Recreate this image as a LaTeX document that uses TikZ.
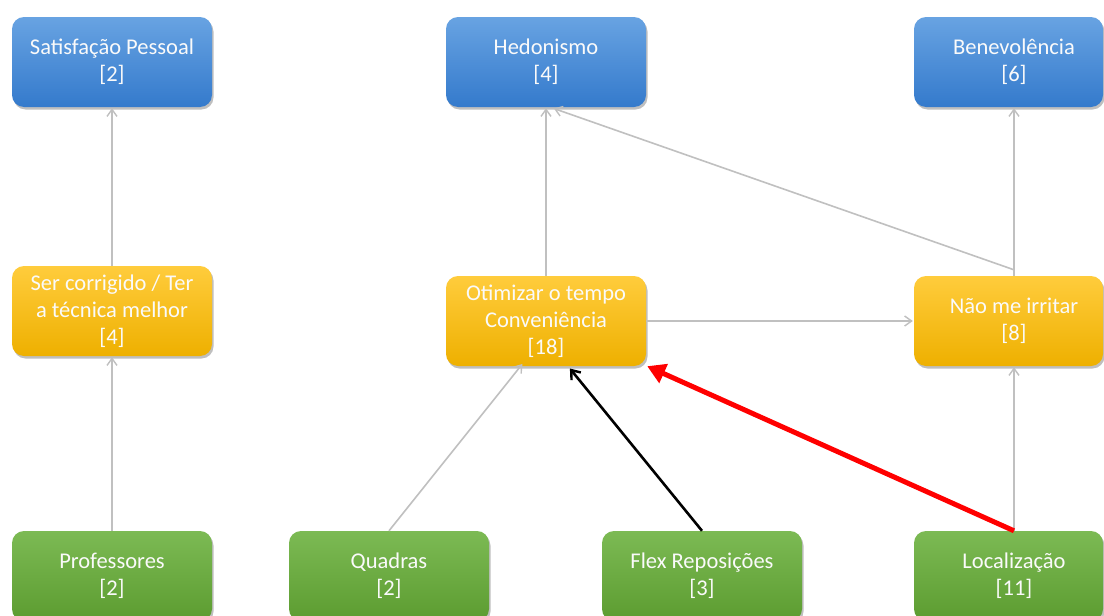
\documentclass[tikz,border=0pt]{standalone}
\usepackage{fontspec}
\setmainfont{Carlito}
\usetikzlibrary{arrows.meta,shadows}
\definecolor{bluetop}{RGB}{104,163,226}
\definecolor{bluebot}{RGB}{52,122,204}
\definecolor{yeltop}{RGB}{255,204,60}
\definecolor{yelbot}{RGB}{238,176,0}
\definecolor{grntop}{RGB}{124,186,84}
\definecolor{grnbot}{RGB}{92,156,48}
\definecolor{conngray}{RGB}{192,192,192}
\definecolor{txtwhite}{RGB}{250,250,250}
\tikzset{
  box/.style={rounded corners=12pt, minimum width=200pt, minimum height=90pt,
    inner sep=0pt, align=center, text=txtwhite,
    font=\fontsize{22.5}{27}\selectfont,
    drop shadow={shadow xshift=1.5pt, shadow yshift=-2.5pt, opacity=0.25, fill=black}},
  boxnarrow/.style={box, minimum width=189pt},
  bluebox/.style={top color=bluetop, bottom color=bluebot},
  yelbox/.style={top color=yeltop, bottom color=yelbot},
  grnbox/.style={top color=grntop, bottom color=grnbot},
  boxtext/.style={align=center, text=txtwhite, inner sep=0pt,
    font=\fontsize{22.5}{27}\selectfont},
  grayconn/.style={draw=conngray, line width=1.6pt,
    -{Straight Barb[length=7pt,width=10pt,line width=1.4pt]}, shorten >=1pt},
  blackconn/.style={draw=black, line width=2.6pt,
    -{Straight Barb[length=8pt,width=12pt,line width=2.4pt]}, shorten >=3pt},
  redconn/.style={draw=red, line width=5pt,
    -{Triangle[length=18pt,width=20pt]}},
}
\begin{document}
\begin{tikzpicture}[x=1pt,y=-1pt]
\useasboundingbox[fill=white] (0,0) rectangle (1104,616);
% top row
\node[box,bluebox] (sat) at (112,62) {Satisfação Pessoal\\{}[2]};
\node[box,bluebox] (hed) at (546,62) {Hedonismo\\{}[4]};
\node[boxnarrow,bluebox] (ben) at (1008.5,62) {};
\node[boxtext] (bent) at (1014,62) {Benevolência\\{}[6]};
% middle row
\node[box,yelbox] (ser) at (112,311) {Ser corrigido / Ter\\a técnica melhor\\{}[4]};
\node[box,yelbox] (oti) at (546,321) {Otimizar o tempo\\Conveniência\\{}[18]};
\node[boxnarrow,yelbox] (nao) at (1008.5,321) {};
\node[boxtext] (naot) at (1014,321) {Não me irritar\\{}[8]};
% bottom row
\node[box,grnbox] (pro) at (112,576) {Professores\\{}[2]};
\node[box,grnbox] (qua) at (389,576) {Quadras\\{}[2]};
\node[box,grnbox] (fle) at (702,576) {Flex Reposições\\{}[3]};
\node[boxnarrow,grnbox] (loc) at (1008.5,576) {};
\node[boxtext] (loct) at (1014,576) {Localização\\{}[11]};
% connectors
\draw[grayconn] (pro.north) -- (ser.south);
\draw[grayconn] (ser.north) -- (sat.south);
\draw[grayconn] (oti.north) -- (hed.south);
\draw[grayconn] (oti.east) -- (nao.west);
\draw[grayconn] ([xshift=5.5pt,yshift=6pt]nao.north) -- ([xshift=7pt,yshift=-1pt]hed.south);
\draw[grayconn] ([xshift=5.5pt]nao.north) -- ([xshift=5.5pt]ben.south);
\draw[grayconn] ([xshift=5.5pt]loc.north) -- ([xshift=5.5pt]nao.south);
\draw[grayconn] (qua.north) -- ([xshift=-23pt,yshift=3pt]oti.south);
\draw[blackconn] (fle.north) -- ([xshift=22pt]oti.south);
\draw[redconn] ([xshift=5.5pt]loc.north) -- ([xshift=1pt]oti.south east);
\end{tikzpicture}
\end{document}
